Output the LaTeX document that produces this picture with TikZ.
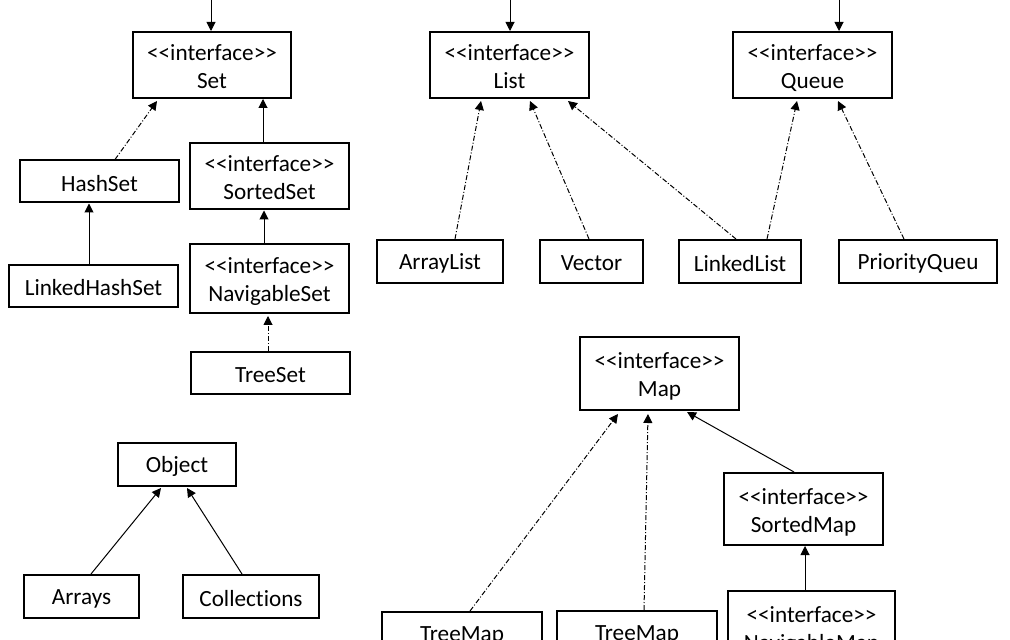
\documentclass[tikz,border=0pt]{standalone}
\usepackage{fontspec}
\setmainfont{Carlito}[Ligatures=NoCommon]
\usetikzlibrary{arrows.meta,calc}
\newcommand{\stereo}{<\kern0pt<interface>\kern0pt>}
\newcommand{\onel}[1]{\raisebox{-1pt}[\height][\depth]{#1}}
\newcommand{\twol}[1]{\raisebox{-1.8pt}[\height][\depth]{\begin{tabular}{@{}c@{}}\stereo\\#1\end{tabular}}}
\begin{document}
\begin{tikzpicture}[x=0.5pt,y=-0.5pt,
  font=\fontsize{11.6}{14}\selectfont,
  box/.style 2 args={draw, line width=1pt, minimum width=#1*0.5pt, minimum height=#2*0.5pt, inner sep=0pt, align=center},
  conn/.style={line width=0.5pt, -{Triangle[length=4.5pt,width=4.5pt]}},
  impl/.style={conn, dash pattern=on 2.5pt off 1pt on 0.5pt off 1pt}]
\useasboundingbox (0,0) rectangle (1010,640);
\clip (0,0) rectangle (1010,640);
\fill[white] (0,0) rectangle (1010,640);

% Set hierarchy
\node[box={158}{66}] (set) at (212,65) {\twol{Set}};
\node[box={159}{42}] (hs) at (99.5,181.5) {\onel{HashSet}};
\node[box={159}{66}] (ss) at (269.5,176.5) {\twol{SortedSet}};
\node[box={169}{42}] (lhs) at (93.5,286) {\onel{LinkedHashSet}};
\node[box={159}{69}] (ns) at (269.5,278.5) {\twol{NavigableSet}};
\node[box={159}{42}] (ts) at (270.5,373) {\onel{TreeSet}};

\coordinate (settop) at (211,0);
\draw[conn] (settop) -- (set.north -| settop);
\draw[impl] ($(hs.north)+(15.5,0)$) -- ($(set.south)+(-55,2)$);
\draw[conn] ($(ss.north)+(-6.5,0)$) -- ($(set.south)+(51,0)$);
\draw[conn] ($(lhs.north)+(-4.5,0)$) -- ($(hs.south)+(-10.5,0)$);
\draw[conn] ($(ns.north)+(-5.5,0)$) -- ($(ss.south)+(-5.5,0)$);
\draw[impl] ($(ts.north)+(-2.5,0)$) -- ($(ns.south)+(-1.5,2)$);

% List / Queue
\node[box={159}{66}] (list) at (509.5,65) {\twol{List}};
\node[box={159}{66}] (queue) at (812.5,65) {\twol{Queue}};
\node[box={126}{43}] (al) at (440,261.5) {\onel{ArrayList}};
\node[box={103}{43}] (vec) at (591.5,261.5) {\onel{Vector}};
\node[box={122}{43}] (ll) at (740,261.5) {\onel{LinkedList}};
\node[box={158}{43}] (pq) at (918,261.5) {\onel{PriorityQueu}};

\coordinate (listtop) at (510,0);
\coordinate (queuetop) at (839,0);
\draw[conn] (listtop) -- (list.north -| listtop);
\draw[conn] (queuetop) -- (queue.north -| queuetop);
\draw[impl] ($(al.north)+(15,0)$) -- ($(list.south)+(-28.5,2)$);
\draw[impl] ($(vec.north)+(-2.5,0)$) -- ($(list.south)+(20.5,2)$);
\draw[impl] ($(ll.north)+(-4,0)$) -- ($(list.south)+(58.5,2)$);
\draw[impl] ($(ll.north)+(27,0)$) -- ($(queue.south)+(-15.5,2)$);
\draw[impl] ($(pq.north)+(-14,0)$) -- ($(queue.south)+(25.5,2)$);

% Map hierarchy
\node[box={159}{73}] (map) at (659.5,373.5) {\twol{Map}};
\node[box={159}{72}] (sm) at (803.5,509) {\twol{SortedMap}};
\node[box={167}{72}] (nm) at (811.5,627) {\twol{NavigableMap}};
\node[box={160}{43}] (tm1) at (462,633.5) {\onel{TreeMap}};
\node[box={160}{43}] (tm2) at (637,632.5) {\onel{TreeMap}};

\draw[impl] ($(tm1.north)+(8,0)$) -- ($(map.south)+(-41.5,3)$);
\draw[impl] ($(tm2.north)+(7,0)$) -- ($(map.south)+(-11.5,3)$);
\draw[conn] ($(sm.north)+(-9.5,0)$) -- ($(map.south)+(27.5,1)$);
\draw[conn] ($(nm.north)+(-6.5,0)$) -- ($(sm.south)+(1.5,0)$);

% Object
\node[box={118}{43}] (obj) at (177,464.5) {\onel{Object}};
\node[box={115}{43}] (arr) at (81.5,596.5) {\onel{Arrays}};
\node[box={136}{43}] (col) at (251,596.5) {\onel{Collections}};
\draw[conn] ($(arr.north)+(9.5,0)$) -- ($(obj.south)+(-16,1)$);
\draw[conn] ($(col.north)+(-9,0)$) -- ($(obj.south)+(10,1)$);
\end{tikzpicture}
\end{document}
